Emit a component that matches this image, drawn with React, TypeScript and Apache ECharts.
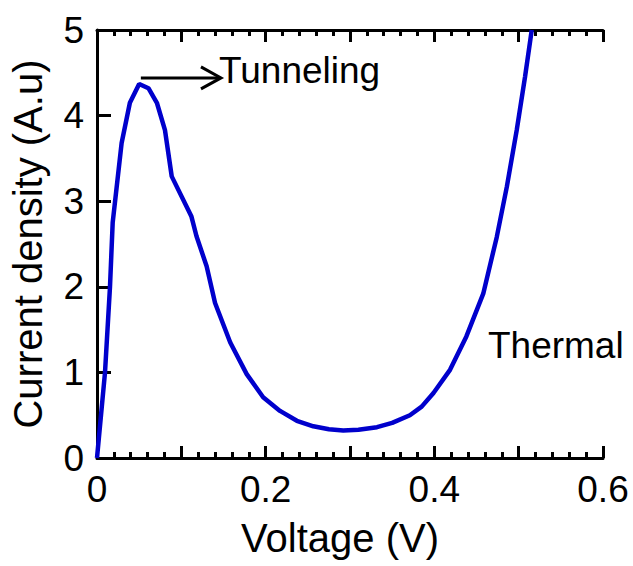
import React, { useEffect, useRef } from "react";
import * as echarts from "echarts";

const voltage = [0, 0.0095, 0.0154, 0.0186, 0.0292, 0.039, 0.05, 0.061, 0.071, 0.0806, 0.0886, 0.112, 0.118, 0.13, 0.14, 0.158, 0.1775, 0.197, 0.217, 0.237, 0.2565, 0.275, 0.292, 0.31, 0.332, 0.35, 0.371, 0.385, 0.399, 0.4186, 0.438, 0.458, 0.474, 0.486, 0.4977, 0.5075, 0.5155];
const current = [0, 1.0, 2.0, 2.75, 3.68, 4.15, 4.37, 4.32, 4.15, 3.83, 3.29, 2.82, 2.59, 2.24, 1.81, 1.35, 0.98, 0.71, 0.55, 0.435, 0.37, 0.335, 0.32, 0.33, 0.36, 0.41, 0.5, 0.6, 0.76, 1.03, 1.42, 1.92, 2.58, 3.17, 3.83, 4.45, 5.0];

const xTickLabels = ["0", "0.2", "0.4", "0.6"];
const yTickLabels = ["0", "1", "2", "3", "4", "5"];

const tunnelingArrow = { from: [0.052, 4.44], to: [0.147, 4.44] };
const tunnelingLabel = { text: "Tunneling", at: [0.1447, 4.53] };
const thermalLabel = { text: "Thermal", at: [0.4636, 1.32] };

const FONT = "'Liberation Sans', Arial, Helvetica, sans-serif";

export default function App() {
  const ref = useRef<HTMLDivElement>(null);
  useEffect(() => {
    document.body.style.margin = "0";
    if (!ref.current) return;
    const chart = echarts.init(ref.current, null, { renderer: "svg" });
    const axisLineStyle = { color: "#000", width: 3 };
    const xFmt = (v: number) => {
      const s = String(Number(v.toFixed(1)));
      return xTickLabels.includes(s) ? s : "";
    };
    const baseX = {
      type: "value",
      min: 0,
      max: 0.6,
      interval: 0.1,
      axisLine: { show: true, onZero: false, lineStyle: axisLineStyle },
      axisTick: { show: true, inside: true, length: 12, lineStyle: axisLineStyle },
      minorTick: { show: true, splitNumber: 5, length: 6, lineStyle: axisLineStyle },
      splitLine: { show: false },
      minorSplitLine: { show: false },
    };
    chart.setOption({
      animation: false,
      backgroundColor: "#fff",
      grid: { left: 97, right: 30, top: 30, bottom: 108, containLabel: false },
      xAxis: [
        {
          ...baseX,
          position: "bottom",
          axisLabel: {
            formatter: xFmt,
            fontSize: 37,
            color: "#000",
            fontFamily: FONT,
            margin: 13,
          },
          name: "Voltage (V)",
          nameLocation: "middle",
          nameGap: 60,
          nameTextStyle: { fontSize: 40, color: "#000", fontFamily: FONT, padding: [0, 20, 0, 0] },
        },
        {
          ...baseX,
          position: "top",
          axisLabel: { show: false },
        },
      ],
      yAxis: {
        type: "value",
        min: 0,
        max: 5,
        interval: 1,
        axisLine: { show: true, onZero: false, lineStyle: axisLineStyle },
        axisTick: { show: true, inside: true, length: 14, lineStyle: axisLineStyle },
        splitLine: { show: false },
        axisLabel: {
          formatter: (v: number) => {
            const s = String(v);
            return yTickLabels.includes(s) ? s : "";
          },
          fontSize: 37,
          color: "#000",
          fontFamily: FONT,
          margin: 13,
          padding: [0, 0, 10, 0],
        },
        name: "Current density (A.u)",
        nameLocation: "middle",
        nameGap: 49,
        nameTextStyle: { fontSize: 40, color: "#000", fontFamily: FONT },
      },
      series: [
        {
          type: "line",
          xAxisIndex: 0,
          yAxisIndex: 0,
          data: voltage.map((v, i) => [v, current[i]]),
          showSymbol: false,
          smooth: false,
          lineStyle: { color: "#0000CC", width: 4.5 },
          clip: true,
        },
      ],
    });

    const px = (p: number[]) => chart.convertToPixel({ xAxisIndex: 0, yAxisIndex: 0 }, p) as number[];
    const a0 = px(tunnelingArrow.from);
    const a1 = px(tunnelingArrow.to);
    const tl = px(tunnelingLabel.at);
    const th = px(thermalLabel.at);
    const arrowStyle = { stroke: "#000", lineWidth: 3, fill: null };
    chart.setOption({
      graphic: [
        { type: "line", shape: { x1: a0[0], y1: a0[1], x2: a1[0] - 2, y2: a1[1] }, style: arrowStyle },
        {
          type: "polyline",
          shape: { points: [[a1[0] - 20, a1[1] - 11], [a1[0], a1[1]], [a1[0] - 20, a1[1] + 11]] },
          style: arrowStyle,
        },
        {
          type: "text",
          x: tl[0],
          y: tl[1],
          style: { text: tunnelingLabel.text, fontSize: 37, fontFamily: FONT, fill: "#000", align: "left", verticalAlign: "middle" },
        },
        {
          type: "text",
          x: th[0],
          y: th[1],
          style: { text: thermalLabel.text, fontSize: 37, fontFamily: FONT, fill: "#000", align: "left", verticalAlign: "middle" },
        },
      ],
    });
    return () => chart.dispose();
  }, []);
  return <div ref={ref} style={{ width: 633, height: 566 }} />;
}
